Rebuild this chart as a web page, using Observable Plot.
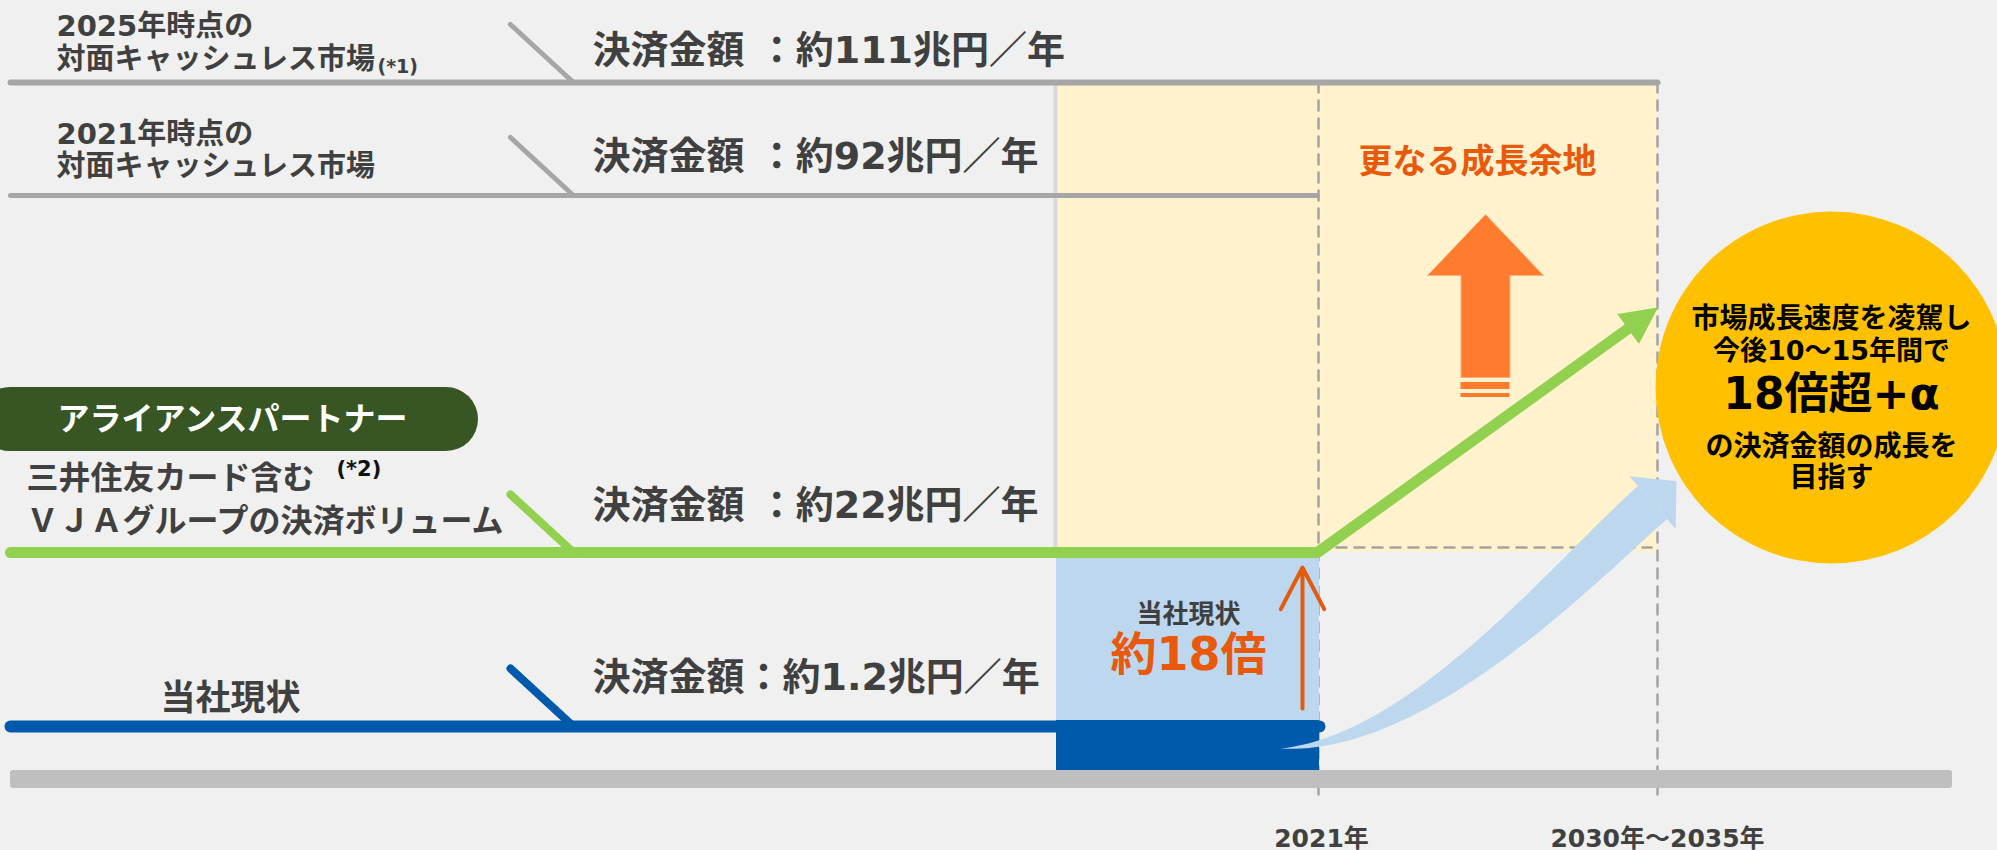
<!DOCTYPE html>
<html><head><meta charset="utf-8">
<script src="https://cdn.jsdelivr.net/npm/d3@7"></script>
<script src="https://cdn.jsdelivr.net/npm/@observablehq/plot@0.6"></script>
<style>
html,body{margin:0;padding:0;background:#eff0ef;overflow:hidden;}
#chart svg{display:block}
</style></head><body><div id="chart"></div>
<script>
// ---------------- data ----------------
const segmentNames = ["2025年時点の\n対面キャッシュレス市場", "2021年時点の\n対面キャッシュレス市場", "三井住友カード含む\nＶＪＡグループの決済ボリューム", "当社現状"];
const segmentNotes = ["(*1)", "", "(*2)", ""];
const amounts = [111, 92, 22, 1.2];           // 決済金額 兆円/年
const amountSeparators = [" ：", " ：", " ：", "："];
const groupLabel = "アライアンスパートナー";
const periods = ["2021年", "2030年～2035年"];
const currentLabel = "当社現状";
const currentMultiple = 18;                   // 約18倍
const growthLabel = "更なる成長余地";
const goalLines = ["市場成長速度を凌駕し", "今後10～15年間で", "18倍超+α", "の決済金額の成長を", "目指す"];

// ---------------- layout (positions / styles) ----------------
const W = 1997, H = 850;
const FONT = "'DejaVu Sans', 'Noto Sans CJK JP', sans-serif";
const TXT = "#404040";
const lay = {
  x0: 10,
  rowY: [82, 195, 552, 726],
  rowW: [6, 5, 11, 12],
  rowEnd: [1657, 1317, 1317, 1319],
  rowColor: ["#a6a6a6", "#a6a6a6", "#92d050", "#005aab"],
  diagW: [5, 5, 8, 8],
  diagX: [510, 573], diagRise: 58,
  periodX: [1318, 1657],
  boxX: 1056, boxRight: 1319,
  baseY: [770, 788], baseX: [10, 1952],
  nameX: [56, 56, 26, 230],
  nameY: [[26, 59], [134, 166], [478, 521], [698]],
  nameSize: [29, 29, 32, 35],
  noteX: [377, 0, 336, 0], noteY: [66, 0, 469, 0], noteSize: [19, 0, 21, 0],
  amountX: 592, amountY: [50, 156, 505, 677], amountSize: 38,
  pill: {x1: -22, x2: 478, y1: 387, y2: 451, r: 32, cx: 232, cy: 419},
  circle: {cx: 1831, cy: 387, r: 176, lineY: [319, 351, 394, 447, 478], size: [28, 27, 44, 28, 28]},
  growth: {x: 1477, y: 162},
  bigArrow: {cx: 1485, tip: 214, headY: 275, headHalf: 58, shaftHalf: 24.5, shaftEnd: 377, stripes: [[382, 389], [393, 397]]},
  upArrow: {x: 1302, y1: 708, y2: 567},
  curArrow: {p0: [1280, 748], c1: [1420, 745], c2: [1577, 568], p3: [1652, 502], w: 44, headHalf: 35, headLen: 32},
  greenTip: [1657, 307], greenHeadLen: 36, greenHeadHalf: 18,
  labelY: 838
};

// ---------------- derived geometry ----------------
const pt = (x, y) => ({x, y});
const add = (a, b, k = 1) => [a[0] + b[0] * k, a[1] + b[1] * k];
const norm = v => { const l = Math.hypot(v[0], v[1]); return [v[0] / l, v[1] / l]; };

const rowLines = amounts.map((v, i) => i === 2 ? null : [pt(lay.x0, lay.rowY[i]), pt(lay.rowEnd[i], lay.rowY[i])]);
const gCorner = [lay.rowEnd[2], lay.rowY[2]];
const gDir = norm([lay.greenTip[0] - gCorner[0], lay.greenTip[1] - gCorner[1]]);
const gN = [-gDir[1], gDir[0]];
const gBase = add(lay.greenTip, gDir, -lay.greenHeadLen);
const greenLine = [pt(lay.x0, lay.rowY[2]), pt(...gCorner), pt(...add(gBase, gDir, 2))];
const greenHead = [pt(...lay.greenTip), pt(...add(gBase, gN, lay.greenHeadHalf)), pt(...add(gBase, gN, -lay.greenHeadHalf))];

const diags = amounts.map((v, i) => [pt(lay.diagX[0], lay.rowY[i] - lay.diagRise), pt(lay.diagX[1], lay.rowY[i])]);

const ca = lay.curArrow;
function bez(t) {
  const u = 1 - t;
  return [0, 1].map(k => u*u*u*ca.p0[k] + 3*u*u*t*ca.c1[k] + 3*u*t*t*ca.c2[k] + t*t*t*ca.p3[k]);
}
function dbez(t) {
  const u = 1 - t;
  return [0, 1].map(k => 3*u*u*(ca.c1[k]-ca.p0[k]) + 6*u*t*(ca.c2[k]-ca.c1[k]) + 3*t*t*(ca.p3[k]-ca.c2[k]));
}
const sideA = [], sideB = [];
for (let i = 0; i <= 60; i++) {
  const t = i / 60, p = bez(t), d = norm(dbez(t)), n = [-d[1], d[0]];
  const w = ca.w / 2 * Math.sin(t * Math.PI / 2);
  sideA.push(pt(...add(p, n, w))); sideB.push(pt(...add(p, n, -w)));
}
const curBody = sideA.concat(sideB.reverse());
const endDir = norm(dbez(1)), endN = [-endDir[1], endDir[0]];
const curHead = [pt(...add(ca.p3, endDir, ca.headLen)), pt(...add(ca.p3, endN, ca.headHalf)), pt(...add(ca.p3, endN, -ca.headHalf))];

const ba = lay.bigArrow;
const bigArrow = [pt(ba.cx, ba.tip), pt(ba.cx + ba.headHalf, ba.headY), pt(ba.cx + ba.shaftHalf, ba.headY), pt(ba.cx + ba.shaftHalf, ba.shaftEnd),
  pt(ba.cx - ba.shaftHalf, ba.shaftEnd), pt(ba.cx - ba.shaftHalf, ba.headY), pt(ba.cx - ba.headHalf, ba.headY)];
const stripes = ba.stripes.map(([a, b]) => ({x1: ba.cx - ba.shaftHalf, x2: ba.cx + ba.shaftHalf, y1: a, y2: b}));

const nameTexts = [];
segmentNames.forEach((s, i) => s.split("\n").forEach((line, j) => nameTexts.push({x: lay.nameX[i], y: lay.nameY[i][j], text: line, size: lay.nameSize[i], i})));
const noteTexts = segmentNotes.map((s, i) => ({x: lay.noteX[i], y: lay.noteY[i], text: s, size: lay.noteSize[i], i})).filter(d => d.text);
const amountTexts = amounts.map((v, i) => ({x: lay.amountX, y: lay.amountY[i], text: `決済金額${amountSeparators[i]}約${v}兆円／年`}));
const goalTexts = goalLines.map((s, i) => ({x: lay.circle.cx, y: lay.circle.lineY[i], text: s, size: lay.circle.size[i]}));
const periodTexts = periods.map((s, i) => ({x: lay.periodX[i] + (i === 0 ? 3 : 0), y: lay.labelY, text: s}));

const line = (data, o) => Plot.line(data, {x: "x", y: "y", ...o});
const rect = (data, o) => Plot.rect(data, {x1: "x1", x2: "x2", y1: "y1", y2: "y2", ...o});
const dash = {stroke: "#a3a3a3", strokeWidth: 2.5, strokeDasharray: "10,8"};

const chart = Plot.plot({
  width: W, height: H, margin: 0,
  x: {domain: [0, W], range: [0, W], axis: null},
  y: {domain: [0, H], range: [0, H], axis: null},
  style: {background: "#eff0ef", fontFamily: FONT, overflow: "visible"},
  marks: [
    rect([{x1: lay.boxX, x2: lay.periodX[1], y1: lay.rowY[0], y2: lay.rowY[2]}], {fill: "#fff2cc"}),
    line([pt(lay.boxX - 1, lay.rowY[0] + 3), pt(lay.boxX - 1, lay.rowY[2])], {stroke: "#d9d9d9", strokeWidth: 4}),
    ...lay.periodX.map(x => line([pt(x, lay.rowY[0]), pt(x, 800)], dash)),
    line([pt(lay.periodX[0], lay.rowY[2] - 5), pt(lay.periodX[1] - 6, lay.rowY[2] - 5)], dash),
    rect([{x1: lay.boxX, x2: lay.boxRight, y1: lay.rowY[2], y2: lay.rowY[3] - 6}], {fill: "#bdd7ee"}),
    rect([{x1: lay.boxX, x2: lay.boxRight, y1: lay.rowY[3] - 6, y2: lay.baseY[0]}], {fill: "#005aab"}),
    rect([{x1: lay.baseX[0], x2: lay.baseX[1], y1: lay.baseY[0], y2: lay.baseY[1]}], {fill: "#bfbfbf", rx: 3}),
    ...rowLines.map((d, i) => d ? line(d, {stroke: lay.rowColor[i], strokeWidth: lay.rowW[i]}) : null).filter(Boolean),
    line(greenLine, {stroke: lay.rowColor[2], strokeWidth: lay.rowW[2], strokeLinejoin: "miter"}),
    line(greenHead, {fill: lay.rowColor[2], stroke: lay.rowColor[2], strokeWidth: 1}),
    ...diags.map((d, i) => line(d, {stroke: lay.rowColor[i], strokeWidth: lay.diagW[i]})),
    line(bigArrow, {fill: "#ff7c2e", stroke: "#ffb080", strokeWidth: 1}),
    rect(stripes, {fill: "#ff7c2e"}),
    line(curBody, {fill: "#bdd7ee"}),
    line(curHead, {fill: "#bdd7ee"}),
    Plot.arrow([{x1: lay.upArrow.x, y1: lay.upArrow.y1, x2: lay.upArrow.x, y2: lay.upArrow.y2}], {x1: "x1", y1: "y1", x2: "x2", y2: "y2", stroke: "#e35b0e", strokeWidth: 4, headLength: 24, headAngle: 55}),
    Plot.dot([pt(lay.circle.cx, lay.circle.cy)], {x: "x", y: "y", r: lay.circle.r, fill: "#ffc000", stroke: null}),
    rect([lay.pill], {fill: "#375623", rx: lay.pill.r}),
    Plot.text([groupLabel], {x: lay.pill.cx, y: lay.pill.cy, text: d => d, fill: "white", fontSize: 32, fontWeight: "bold"}),
    Plot.text(nameTexts.filter(d => d.i < 3), {x: "x", y: "y", text: "text", fontSize: d => d.size, textAnchor: "start", fill: TXT, fontWeight: "bold"}),
    Plot.text(nameTexts.filter(d => d.i === 3), {x: "x", y: "y", text: "text", fontSize: d => d.size, textAnchor: "middle", fill: TXT, fontWeight: "bold"}),
    Plot.text(noteTexts, {x: "x", y: "y", text: "text", fontSize: d => d.size, textAnchor: "start", fill: d => d.i === 2 ? "#111" : TXT, fontWeight: "bold"}),
    Plot.text(amountTexts, {x: "x", y: "y", text: "text", fontSize: lay.amountSize, textAnchor: "start", fill: TXT, fontWeight: "bold"}),
    Plot.text([growthLabel], {x: lay.growth.x, y: lay.growth.y, text: d => d, fontSize: 34, fill: "#e8590c", fontWeight: "bold"}),
    Plot.text([currentLabel], {x: 1188, y: 614, text: d => d, fontSize: 26, fill: TXT, fontWeight: "bold"}),
    Plot.text([`約${currentMultiple}倍`], {x: 1188, y: 655, text: d => d, fontSize: 46, fill: "#e8590c", fontWeight: "bold"}),
    Plot.text(goalTexts, {x: "x", y: "y", text: "text", fontSize: d => d.size, fill: "#000", fontWeight: "bold"}),
    Plot.text(periodTexts, {x: "x", y: "y", text: "text", fontSize: 25, fill: TXT, fontWeight: "bold"})
  ]
});
document.getElementById("chart").appendChild(chart);
</script></body></html>
